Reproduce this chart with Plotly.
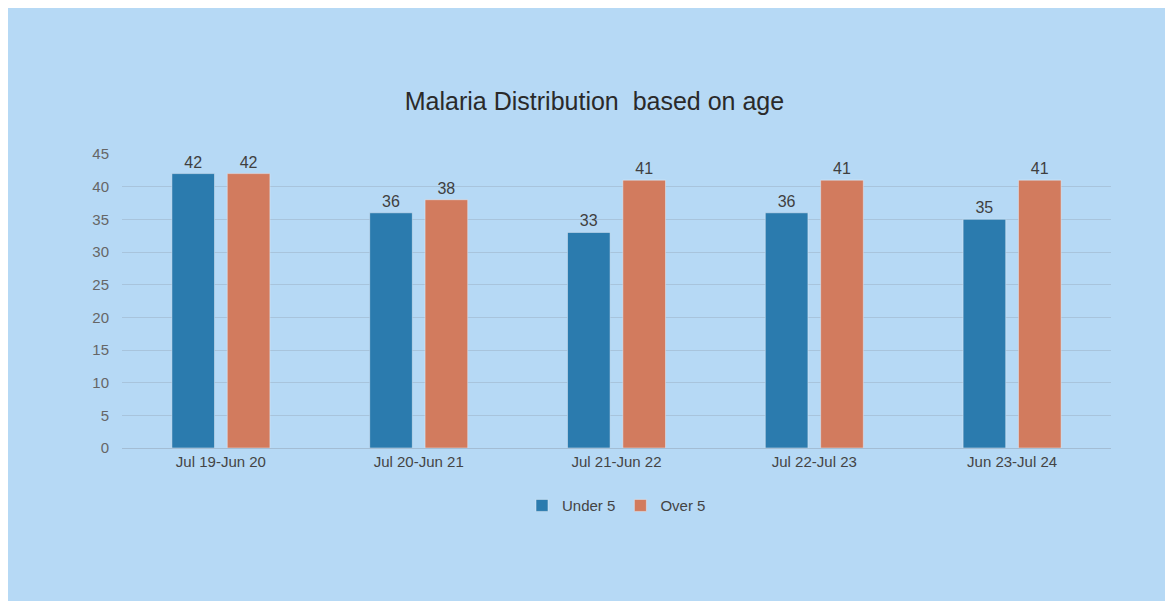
import plotly.graph_objects as go

categories = ["Jul 19-Jun 20", "Jul 20-Jun 21", "Jul 21-Jun 22", "Jul 22-Jul 23", "Jun 23-Jul 24"]
under5 = [42, 36, 33, 36, 35]
over5 = [42, 38, 41, 41, 41]

bg = "#B6D9F5"
blue = "#2B7BAE"
orange = "#D27B5E"
font_fam = "Liberation Sans, Arial, sans-serif"

fig = go.Figure()
fig.add_trace(go.Bar(x=categories, y=under5, name="Under 5", marker_color=blue,
                     text=under5, textposition="outside",
                     textfont=dict(size=16, color="#3f3f3f", family=font_fam), cliponaxis=False))
fig.add_trace(go.Bar(x=categories, y=over5, name="Over 5", marker_color=orange,
                     text=over5, textposition="outside",
                     textfont=dict(size=16, color="#3f3f3f", family=font_fam), cliponaxis=False))

fig.update_layout(
    width=1173, height=601,
    paper_bgcolor=bg, plot_bgcolor=bg,
    barmode="group", bargap=0.44, bargroupgap=0.23,
    margin=dict(l=114, r=70, t=146, b=161),
    title=dict(text="Malaria Distribution  based on age", x=0.5, xanchor="center",
               y=0.845, yanchor="middle",
               font=dict(size=25, color="#2a2a2a", family=font_fam)),
    font=dict(family=font_fam, color="#555555", size=14),
    legend=dict(orientation="h", x=0.5, xanchor="center", y=-0.14, yanchor="top",
                font=dict(size=15, color="#444444"), bgcolor="rgba(0,0,0,0)",
                itemwidth=30, tracegroupgap=0),
    showlegend=True,
)
fig.update_yaxes(range=[0, 45], dtick=5, showgrid=True, gridcolor="rgba(150,170,190,0.45)",
                 gridwidth=1, zeroline=False, showline=False, ticks="",
                 tickfont=dict(size=15, color="#666666"), ticklabelstandoff=12)
fig.update_xaxes(showgrid=False, showline=True, linecolor="rgba(150,170,190,0.6)",
                 tickfont=dict(size=15, color="#444444"), ticks="")

fig.write_html("out.html")
